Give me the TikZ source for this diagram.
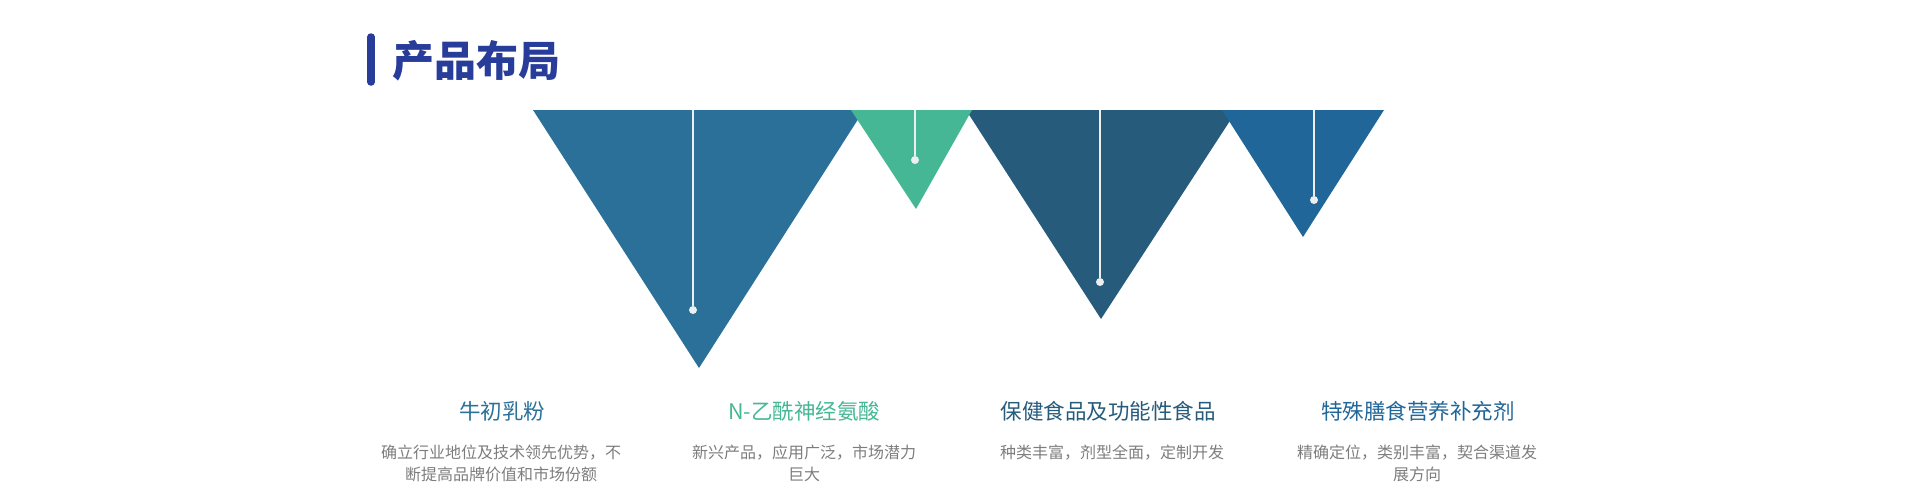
\documentclass[tikz,border=0pt]{standalone}
\usepackage{fontspec}
\newfontfamily\cjk{Noto Sans CJK SC}
\usetikzlibrary{positioning}

\newlength{\du}
\setlength{\du}{1pt}

\tikzset{
  pin line/.style={draw=pinwhite,line width=1.6\du},
  pin dot/.style={circle,fill=pinwhite,inner sep=0pt,minimum size=8\du},
  headline/.style={font=\cjk\fontsize{21.5}{24}\selectfont,anchor=center},
  blurb/.style={font=\cjk\fontsize{16}{22.5}\selectfont,text=blurbgray,align=center,anchor=north}
}

\begin{document}
\begin{tikzpicture}
\pgftransformxscale{1.000000}
\pgftransformyscale{-1.000000}
\definecolor{titleblue}{rgb}{0.157, 0.235, 0.604}
\definecolor{milkblue}{rgb}{0.165, 0.439, 0.600}
\definecolor{acidgreen}{rgb}{0.275, 0.718, 0.580}
\definecolor{healthblue}{rgb}{0.149, 0.357, 0.486}
\definecolor{dietblue}{rgb}{0.129, 0.400, 0.600}
\definecolor{pinwhite}{rgb}{0.925, 0.933, 0.941}
\definecolor{blurbgray}{rgb}{0.490, 0.490, 0.490}
\useasboundingbox (0\du,0\du) rectangle (1920\du,499\du);
% title
\draw[titleblue,line width=7.5\du,line cap=round] (371\du,37\du)--(371\du,82\du);
\node[anchor=west,text=titleblue,font=\cjk\bfseries\fontsize{42}{46}\selectfont] (title) at (389\du,61\du){产品布局};
% triangles
\fill[milkblue] (533\du,110\du)--(864\du,110\du)--(699\du,368\du)--cycle;
\fill[healthblue] (966\du,110\du)--(1237\du,110\du)--(1101\du,319\du)--cycle;
\fill[dietblue] (1222\du,110\du)--(1384\du,110\du)--(1303\du,237\du)--cycle;
\fill[acidgreen] (851\du,110\du)--(972\du,110\du)--(916\du,209\du)--cycle;
% pins
\coordinate (topmilk) at (693\du,110\du);
\coordinate (topacid) at (915\du,110\du);
\coordinate (tophealth) at (1100\du,110\du);
\coordinate (topdiet) at (1314\du,110\du);
\node[pin dot] (dotmilk) at (693\du,310\du){};
\node[pin dot] (dotacid) at (915\du,160\du){};
\node[pin dot] (dothealth) at (1100\du,282\du){};
\node[pin dot] (dotdiet) at (1314\du,200\du){};
\draw[pin line] (topmilk)--(dotmilk);
\draw[pin line] (topacid)--(dotacid);
\draw[pin line] (tophealth)--(dothealth);
\draw[pin line] (topdiet)--(dotdiet);
% labels
\node[headline,text=milkblue] (headmilk) at (502\du,411\du){牛初乳粉};
\node[headline,text=acidgreen] (headacid) at (804\du,411\du){N-乙酰神经氨酸};
\node[headline,text=healthblue] (headhealth) at (1108\du,411\du){保健食品及功能性食品};
\node[headline,text=dietblue] (headdiet) at (1418\du,411\du){特殊膳食营养补充剂};
\node[blurb] (blurbmilk) at (501\du,441\du){确立行业地位及技术领先优势，不\\断提高品牌价值和市场份额};
\node[blurb] (blurbacid) at (804\du,441\du){新兴产品，应用广泛，市场潜力\\巨大};
\node[blurb] (blurbhealth) at (1112\du,441\du){种类丰富，剂型全面，定制开发};
\node[blurb] (blurbdiet) at (1417\du,441\du){精确定位，类别丰富，契合渠道发\\展方向};
\end{tikzpicture}
\end{document}
